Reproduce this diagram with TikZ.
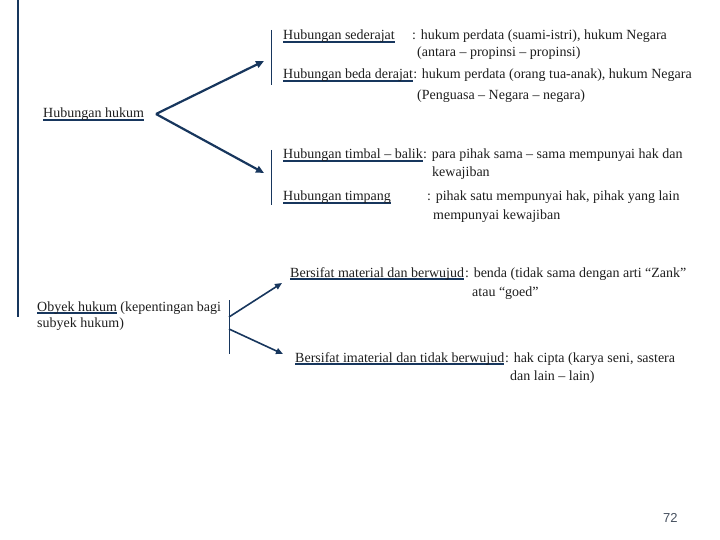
\documentclass[tikz,border=0pt]{standalone}
\usepackage{fontspec}
\setmainfont{Liberation Serif}
\setsansfont{Liberation Sans}
\usetikzlibrary{arrows.meta}
\definecolor{navy}{RGB}{23,54,93}
\definecolor{tinta}{RGB}{30,30,30}
\definecolor{nomor}{RGB}{70,80,95}
% garis bawah biru tua di bawah teks hitam
\newsavebox\garisbox
\newcommand{\garis}[1]{\sbox\garisbox{#1}\rlap{\color{navy}\rule[-2.6pt]{\wd\garisbox}{1.3pt}}\usebox\garisbox}

\begin{document}
\begin{tikzpicture}[x=1pt, y=-1pt,
    teks/.style={anchor=base west, inner sep=0pt, text=tinta, font=\fontsize{14}{17}\selectfont},
    panah/.style={navy, line width=2.2pt, -{Triangle[length=8pt,width=7pt]}},
    panahkecil/.style={navy, line width=1.6pt, -{Triangle[length=7pt,width=6pt]}},
    batas/.style={navy, line width=0.9pt}]
    \useasboundingbox (0,0) rectangle (720,540);

    % Titik-titik untuk panah dan garis
    \coordinate (pusat) at (156,114);
    \coordinate (atas) at (264,61);
    \coordinate (bawah) at (264,173);
    \coordinate (pusatA) at (229,317);
    \coordinate (pusatB) at (229,329);
    \coordinate (ujungA) at (282,283);
    \coordinate (ujungB) at (283,354);

    % Garis tegak
    \draw[navy, line width=1.4pt] (18,0) -- (18,317);
    \draw[batas] (271,30) -- (271,85);
    \draw[batas] (271,150) -- (271,205);
    \draw[batas] (229,300) -- (229,354);

    % Hubungan hukum
    \node[teks] (hukum) at (43,118) {\garis{Hubungan hukum}};
    \draw[panah] (pusat) -- (atas);
    \draw[panah] (pusat) -- (bawah);

    % Cabang atas
    \node[teks] (sed) at (283,40) {\garis{Hubungan sederajat}};
    \node[teks] (sedket) at (412,40) {: hukum perdata (suami-istri), hukum Negara};
    \node[teks] (sedket2) at (417,57) {(antara – propinsi – propinsi)};
    \node[teks] (beda) at (283,79) {\garis{Hubungan beda derajat}};
    \node[teks] (bedaket) at (beda.base east) {: hukum perdata (orang tua-anak), hukum Negara};
    \node[teks] (bedaket2) at (417,100) {(Penguasa – Negara – negara)};

    % Cabang bawah
    \node[teks] (timbal) at (283,159) {\garis{Hubungan timbal – balik}};
    \node[teks] (timbalket) at (423,159) {: para pihak sama – sama mempunyai hak dan};
    \node[teks] (timbalket2) at (432,177) {kewajiban};
    \node[teks] (timpang) at (283,201) {\garis{Hubungan timpang}};
    \node[teks] (timpangket) at (427,201) {: pihak satu mempunyai hak, pihak yang lain};
    \node[teks] (timpangket2) at (433,219) {mempunyai kewajiban};

    % Obyek hukum
    \node[teks] (obyek) at (37,311) {\garis{Obyek hukum} (kepentingan bagi};
    \node[teks] (obyek2) at (37,327) {subyek hukum)};
    \draw[panahkecil] (pusatA) -- (ujungA);
    \draw[panahkecil] (pusatB) -- (ujungB);

    \node[teks] (material) at (290,277) {\garis{Bersifat material dan berwujud}};
    \node[teks] (materialket) at (465,277) {: benda (tidak sama dengan arti “Zank”};
    \node[teks] (materialket2) at (472,296) {atau “goed”};
    \node[teks] (imaterial) at (295,362) {\garis{Bersifat imaterial dan tidak berwujud}};
    \node[teks] (imaterialket) at (505,362) {: hak cipta (karya seni, sastera};
    \node[teks] (imaterialket2) at (510,380) {dan lain – lain)};

    % Nomor halaman
    \node[anchor=base west, inner sep=0pt, text=nomor, font=\sffamily\fontsize{13}{15}\selectfont] (hal) at (663,522) {72};
\end{tikzpicture}
\end{document}
